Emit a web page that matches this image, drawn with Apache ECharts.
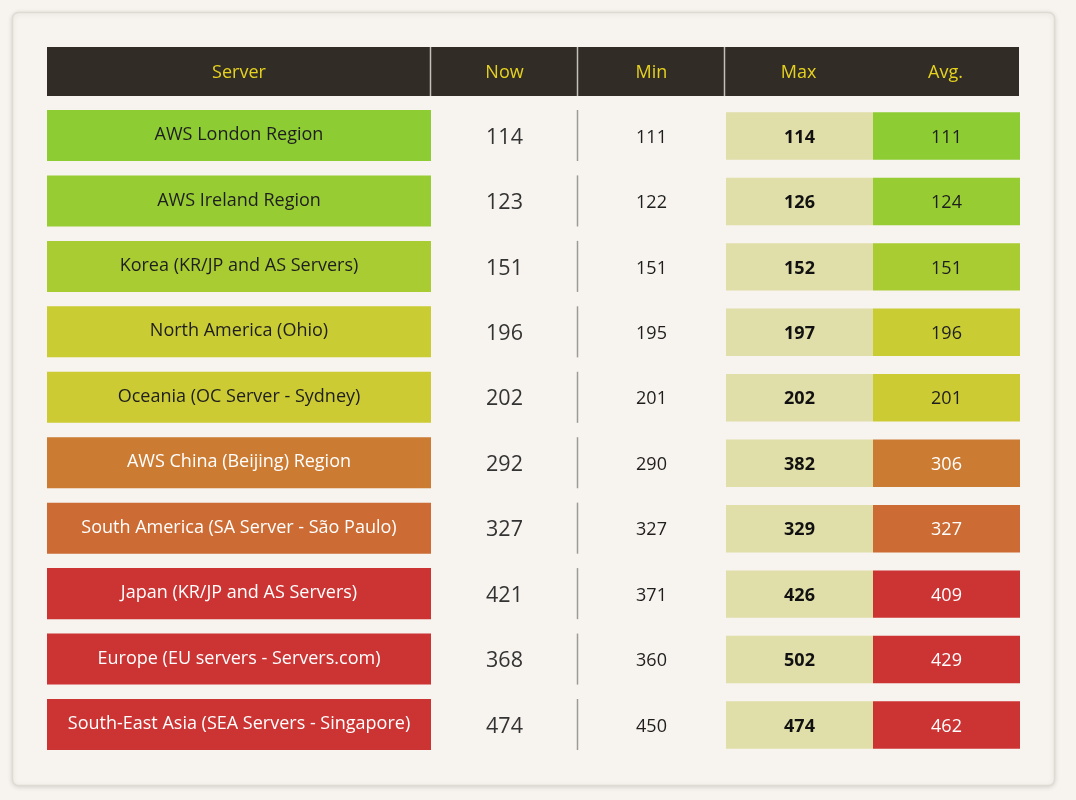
<!DOCTYPE html>
<html><head><meta charset="utf-8">
<script src="https://cdn.jsdelivr.net/npm/echarts@6/dist/echarts.min.js"></script>
<style>html,body{margin:0;padding:0;background:#f7f3ee;}#c{width:1076px;height:800px;}</style>
</head><body><div id="c"></div>
<script>
const headers = ['Server', 'Now', 'Min', 'Max', 'Avg.'];
const servers = [
  'AWS London Region',
  'AWS Ireland Region',
  'Korea (KR/JP and AS Servers)',
  'North America (Ohio)',
  'Oceania (OC Server - Sydney)',
  'AWS China (Beijing) Region',
  'South America (SA Server - São Paulo)',
  'Japan (KR/JP and AS Servers)',
  'Europe (EU servers - Servers.com)',
  'South-East Asia (SEA Servers - Singapore)'
];
const nowVals = [114, 123, 151, 196, 202, 292, 327, 421, 368, 474];
const minVals = [111, 122, 151, 195, 201, 290, 327, 371, 360, 450];
const maxVals = [114, 126, 152, 197, 202, 382, 329, 426, 502, 474];
const avgVals = [111, 124, 151, 196, 201, 306, 327, 409, 429, 462];

const FONT = '"Open Sans", "Noto Sans", sans-serif';
const rowCats = ['header'].concat(servers);

const serverData = servers.map((s, i) => [0, i + 1, avgVals[i]]);
const valueData = [];
[nowVals, minVals, maxVals].forEach((arr, c) => arr.forEach((v, i) => valueData.push([c, i + 1, v])));
const avgData = avgVals.map((v, i) => [3, i + 1, v]);

function txtColor(v) { return v > 250 ? '#ffffff' : '#1e1e1e'; }

function headerItem(params, api) {
  const col = api.value(0);
  const c = api.coord([col, 0]);
  const w = api.size([1, 1])[0];
  const band = api.size([1, 1])[1];
  const top = c[1] - band * 0.352, h = band * 0.75;
  const isA = params.seriesIndex === 3;
  const label = isA ? headers[0] : headers[col + 1];
  const children = [
    {type: 'rect', shape: {x: c[0] - w / 2, y: top, width: w, height: h}, style: {fill: '#312d26'}},
    {type: 'text', style: {x: c[0], y: top + h / 2 + 1, text: label, fill: '#e6d21e', font: '18px ' + FONT, align: 'center', verticalAlign: 'middle'}}
  ];
  if (!isA && col < 3) {
    const x = c[0] - w / 2 - 0.5;
    children.push({type: 'line', shape: {x1: x, y1: top, x2: x, y2: top + h}, style: {stroke: '#c4c1bb', lineWidth: 1.5}});
  }
  return {type: 'group', children};
}

function serverItem(params, api) {
  const row = api.value(1);
  const c = api.coord([0, row]);
  const s = api.size([1, 1]);
  const w = s[0], h = s[1] * 0.78;
  const v = api.value(2);
  return {type: 'group', children: [
    {type: 'rect', shape: {x: c[0] - w / 2, y: c[1] - h / 2, width: w, height: h}, style: {fill: api.visual('color')}},
    {type: 'text', style: {x: c[0], y: c[1] - 0.5, text: servers[row - 1], fill: txtColor(v), font: '18px ' + FONT, align: 'center', verticalAlign: 'middle'}}
  ]};
}

function valueItem(params, api) {
  const col = api.value(0), row = api.value(1), v = api.value(2);
  const c = api.coord([col, row]);
  const s = api.size([1, 1]);
  const w = s[0], band = s[1];
  const ty = c[1] + 2;
  const children = [];
  if (col === 0) {
    children.push({type: 'text', style: {x: c[0], y: ty, text: String(v), fill: '#333333', font: '21.5px ' + FONT, align: 'center', verticalAlign: 'middle'}});
  } else if (col === 1) {
    const x = c[0] - w / 2 - 0.5, h = band * 0.78;
    children.push({type: 'line', shape: {x1: x, y1: c[1] - h / 2, x2: x, y2: c[1] + h / 2}, style: {stroke: '#9c9a96', lineWidth: 1.5}});
    children.push({type: 'text', style: {x: c[0], y: ty, text: String(v), fill: '#1e1e1e', font: '18px ' + FONT, align: 'center', verticalAlign: 'middle'}});
  } else {
    const h = band * 0.725;
    children.push({type: 'rect', shape: {x: c[0] - w / 2 + 1, y: c[1] - h / 2 + 0.5, width: w, height: h}, style: {fill: '#e0dea9'}});
    children.push({type: 'text', style: {x: c[0] + 1, y: ty, text: String(v), fill: '#111111', font: 'bold 18px ' + FONT, align: 'center', verticalAlign: 'middle'}});
  }
  return {type: 'group', children};
}

function avgItem(params, api) {
  const row = api.value(1), v = api.value(2);
  const c = api.coord([3, row]);
  const s = api.size([1, 1]);
  const w = s[0], h = s[1] * 0.725;
  return {type: 'group', children: [
    {type: 'rect', shape: {x: c[0] - w / 2 + 1, y: c[1] - h / 2 + 0.5, width: w, height: h}, style: {fill: api.visual('color')}},
    {type: 'text', style: {x: c[0] + 1, y: c[1] + 2, text: String(v), fill: txtColor(v), font: '18px ' + FONT, align: 'center', verticalAlign: 'middle'}}
  ]};
}

const chart = echarts.init(document.getElementById('c'), null, {renderer: 'canvas'});
const gridTop = 37.34, gridH = 719.9;
chart.setOption({
  animation: false,
  backgroundColor: '#f7f3ee',
  graphic: [{
    type: 'rect', z: -10, shape: {x: 12.5, y: 12.5, width: 1042, height: 773, r: 6},
    style: {fill: '#f7f3ee', stroke: '#dedad4', lineWidth: 1.5, shadowBlur: 5, shadowColor: 'rgba(0,0,0,0.12)', shadowOffsetY: 1}
  }],
  grid: [
    {left: 47, width: 384, top: gridTop, height: gridH},
    {left: 431, width: 588, top: gridTop, height: gridH}
  ],
  xAxis: [
    {type: 'category', gridIndex: 0, data: [headers[0]], show: false},
    {type: 'category', gridIndex: 1, data: headers.slice(1), show: false}
  ],
  yAxis: [
    {type: 'category', gridIndex: 0, data: rowCats, inverse: true, show: false},
    {type: 'category', gridIndex: 1, data: rowCats, inverse: true, show: false}
  ],
  visualMap: {
    type: 'continuous', show: false, seriesIndex: [0, 2], dimension: 2,
    min: 100, max: 500,
    inRange: {color: ['#86cc33', '#cccc33', '#cc8033', '#cc3333', '#cc3333']}
  },
  series: [
    {type: 'custom', xAxisIndex: 0, yAxisIndex: 0, data: serverData, renderItem: serverItem},
    {type: 'custom', xAxisIndex: 1, yAxisIndex: 1, data: valueData, renderItem: valueItem},
    {type: 'custom', xAxisIndex: 1, yAxisIndex: 1, data: avgData, renderItem: avgItem},
    {type: 'custom', xAxisIndex: 0, yAxisIndex: 0, data: [[0, 0]], renderItem: headerItem},
    {type: 'custom', xAxisIndex: 1, yAxisIndex: 1, data: [[0, 0], [1, 0], [2, 0], [3, 0]], renderItem: headerItem}
  ]
});
</script>
</body></html>
